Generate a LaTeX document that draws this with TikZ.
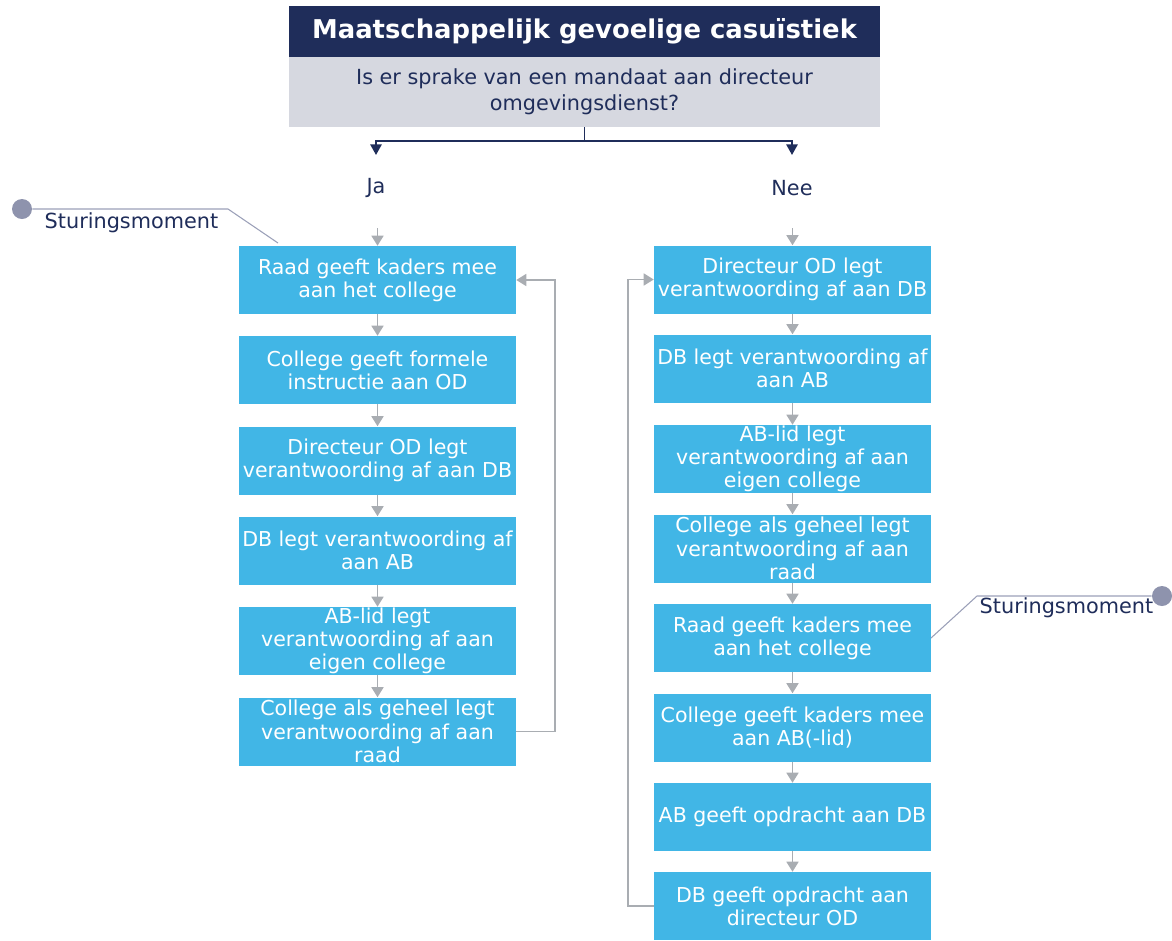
\documentclass[tikz,border=0pt]{standalone}
\usepackage{fontspec}
\setmainfont{DejaVu Sans}
\usetikzlibrary{arrows.meta}
\definecolor{navy}{HTML}{1F2D5A}
\definecolor{qgray}{HTML}{D6D8E0}
\definecolor{stepblue}{HTML}{41B6E6}
\definecolor{flowgray}{HTML}{A9ADB2}
\definecolor{markgray}{HTML}{8E93AD}
\definecolor{markline}{HTML}{9BA0B8}
\tikzset{
  stepbox/.style={fill=stepblue, text=white, align=center, inner sep=0pt,
    minimum width=207.75pt, minimum height=51pt,
    font=\fontsize{15.4}{17.4}\selectfont},
  flow/.style={draw=flowgray, line width=1.2pt, -{Triangle[length=7.5pt,width=9pt]}},
  split/.style={draw=navy, line width=1.4pt, -{Triangle[length=8pt,width=8.5pt]}},
  lbl/.style={text=navy, font=\fontsize{15.6}{18}\selectfont},
  markdot/.style={circle, fill=markgray, inner sep=0pt, minimum size=15pt},
  markln/.style={draw=markline, line width=0.8pt}
}
\begin{document}
\begin{tikzpicture}[x=0.75pt,y=-0.75pt]
\useasboundingbox (0,0) rectangle (1172,940);

% header and question
\node[fill=navy, text=white, minimum width=443.25pt, minimum height=38.25pt, inner sep=0pt,
  font=\fontsize{19.4}{22}\selectfont\bfseries] (title) at (584.5,31.5) {Maatschappelijk gevoelige casuïstiek};
\node[fill=qgray, text=navy, minimum width=443.25pt, minimum height=52.5pt, inner sep=0pt, align=center,
  font=\fontsize{15.6}{19.5}\selectfont] (q) at (584.5,92) {Is er sprake van een mandaat aan directeur\\omgevingsdienst?};

\coordinate (jaTip) at (376,155);
\coordinate (neeTip) at (792,155);
\draw[split] (q.south) -- ++(0,14) -| (jaTip);
\draw[split] (q.south) -- ++(0,14) -| (neeTip);

\node[lbl] (ja) at (376,188) {Ja};
\node[lbl] (nee) at (792,188) {Nee};

% left column
\node[stepbox] (l1) at (377.5,280) {Raad geeft kaders mee\\aan het college};
\node[stepbox] (l2) at (377.5,370) {College geeft formele\\instructie aan OD};
\node[stepbox] (l3) at (377.5,460.5) {Directeur OD legt\\verantwoording af aan DB};
\node[stepbox] (l4) at (377.5,550.5) {DB legt verantwoording af\\aan AB};
\node[stepbox] (l5) at (377.5,641) {AB-lid legt\\verantwoording af aan\\eigen college};
\node[stepbox] (l6) at (377.5,731.5) {College als geheel legt\\verantwoording af aan\\raad};

\coordinate (jaIn) at (377.5,228);
\draw[flow] (jaIn) -- (l1.north);
\foreach \a/\b in {l1/l2,l2/l3,l3/l4,l4/l5,l5/l6}
  \draw[flow] (\a.south) -- (\b.north);
\draw[flow] (l6.east) -- ++(39,0) |- (l1.east);

% right column
\node[stepbox] (r1) at (792.5,279.5) {Directeur OD legt\\verantwoording af aan DB};
\node[stepbox] (r2) at (792.5,368.5) {DB legt verantwoording af\\aan AB};
\node[stepbox] (r3) at (792.5,459) {AB-lid legt\\verantwoording af aan\\eigen college};
\node[stepbox] (r4) at (792.5,548.5) {College als geheel legt\\verantwoording af aan\\raad};
\node[stepbox] (r5) at (792.5,638) {Raad geeft kaders mee\\aan het college};
\node[stepbox] (r6) at (792.5,727.5) {College geeft kaders mee\\aan AB(-lid)};
\node[stepbox] (r7) at (792.5,817) {AB geeft opdracht aan DB};
\node[stepbox] (r8) at (792.5,906) {DB geeft opdracht aan\\directeur OD};

\coordinate (neeIn) at (792.5,228);
\draw[flow] (neeIn) -- (r1.north);
\foreach \a/\b in {r1/r2,r2/r3,r3/r4,r4/r5,r5/r6,r6/r7,r7/r8}
  \draw[flow] (\a.south) -- (\b.north);
\draw[flow] (r8.west) -- ++(-26,0) |- (r1.west);

% steering moments
\node[markdot] (m1) at (22,209) {};
\coordinate (m1k) at (228,209);
\coordinate (m1e) at (278,243);
\draw[markln] (m1.east) -- (m1k) -- (m1e);
\node[lbl, anchor=west] (m1t) at (40,223) {Sturingsmoment};

\node[markdot] (m2) at (1162,596) {};
\coordinate (m2k) at (977,596);
\coordinate (m2e) at (931,638);
\draw[markln] (m2.west) -- (m2k) -- (m2e);
\node[lbl, anchor=west] (m2t) at (975,608) {Sturingsmoment};
\end{tikzpicture}
\end{document}
